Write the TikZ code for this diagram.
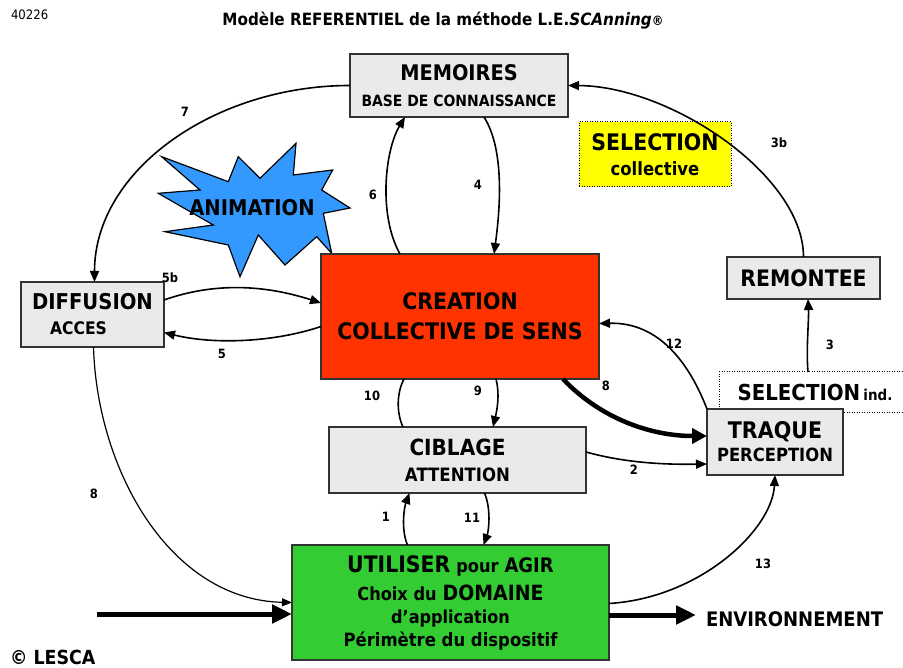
\documentclass[tikz,border=0pt]{standalone}
\usepackage{fontspec}
\setmainfont{DejaVu Sans}[FakeStretch=0.9]
\usetikzlibrary{arrows.meta}
\definecolor{boxgray}{HTML}{EAEAEA}
\definecolor{creared}{HTML}{FF3300}
\definecolor{utigreen}{HTML}{33CC33}
\definecolor{animblue}{HTML}{3399FF}
\definecolor{selyellow}{HTML}{FFFF00}
\definecolor{edgegray}{HTML}{333333}
\newcommand\fsz[1]{\fontsize{#1}{#1}\selectfont}
\newcommand\fbs[2]{\fontsize{#1}{#2}\selectfont}
\begin{document}
\begin{tikzpicture}[x=1pt,y=-1pt,
  every node/.style={inner sep=0pt, outer sep=0pt},
  box/.style={draw=edgegray, line width=1.3pt, fill=boxgray, align=center},
  dotbox/.style={draw=black, line width=1pt, dash pattern=on 1pt off 1.5pt, align=center},
  conn/.style={line width=1.6pt, -{Triangle[length=11pt,width=9pt]}},
  thinconn/.style={line width=1.2pt, -{Triangle[length=10pt,width=8pt]}},
  plainconn/.style={line width=1.6pt},
  heavyconn/.style={line width=4.5pt, -{Triangle[length=15pt,width=15pt]}},
  bigarrow/.style={line width=5pt, -{Triangle[length=20pt,width=18pt]}},
  num/.style={font=\bfseries\fsz{12.8}},
]
\useasboundingbox (0,0) rectangle (903,668);

% texts outside boxes
\node[font=\fsz{13}, anchor=west] (code) at (11,15) {40226};
\node[font=\bfseries\fsz{16.9}] (title) at (443,21) {Modèle REFERENTIEL de la méthode L.E.\textit{SCAnning}{\fsz{13}®}};

% star
\draw[fill=animblue, draw=black, line width=1.2pt, line join=miter]
  (161.7,156.7) -- (228.3,181.7) -- (238.3,156.7) -- (260,178.3) -- (296,143.3)
  -- (293.3,175) -- (332.7,170) -- (321.7,190) -- (350,208) -- (323.3,213.3)
  -- (331.7,253.3) -- (316.7,236.7) -- (285,265) -- (258.3,235) -- (240,276.7)
  -- (228.3,245) -- (165,231.7) -- (213.3,225) -- (158.3,193.3) -- (200,190) -- cycle;
\node[font=\bfseries\fsz{21.7}] (anim) at (252,208) {ANIMATION};

% boxes
\node[box, minimum width=218pt, minimum height=63pt, font=\bfseries\fbs{20}{26}] (mem) at (459,85.5)
  {{\fsz{21.5}MEMOIRES}\\{\fsz{15.5}BASE DE CONNAISSANCE}};
\node[dotbox, fill=selyellow, minimum width=152pt, minimum height=65pt, font=\bfseries\fbs{20}{25}] (selcol) at (655,154.5)
  {{\fsz{22.8}SELECTION}\\{\fsz{18.3}collective}};
\node[box, minimum width=153pt, minimum height=42pt, font=\bfseries\fsz{22.7}] (rem) at (803.5,278) {REMONTEE};
\node[box, fill=creared, minimum width=278pt, minimum height=125pt, font=\bfseries\fbs{22.8}{30}] (crea) at (460,316.5)
  {CREATION\\COLLECTIVE DE SENS};
\node[box, minimum width=143pt, minimum height=65pt, font=\bfseries\fbs{20}{25}] (diff) at (92.5,314.5)
  {{\fsz{21.8}DIFFUSION}\\{\fsz{17.3}ACCES\kern28pt}};
\node[box, minimum width=257pt, minimum height=66pt, font=\bfseries\fbs{20}{26}] (cib) at (457.5,460)
  {{\fsz{22.3}CIBLAGE}\\{\fsz{18.4}ATTENTION}};
\node[dotbox, fill=white, minimum width=200pt, minimum height=41pt, font=\bfseries] (selind) at (819,392.5)
  {{\fsz{22}SELECTION} {\fsz{15}ind.}\kern8pt};
\node[box, minimum width=136pt, minimum height=66pt, font=\bfseries\fbs{20}{23}] (traq) at (775,442)
  {{\fsz{22.9}TRAQUE}\\{\fsz{18.2}PERCEPTION}};
\node[box, fill=utigreen, minimum width=317pt, minimum height=115pt, font=\bfseries\fbs{19}{23}] (uti) at (450.5,602.5)
  {{\fsz{22.7}UTILISER} {\fsz{18}pour} {\fsz{20}AGIR}\\[5pt]{\fsz{18}Choix du} {\fsz{21}DOMAINE}\\{\fsz{17.9}d’application}\\{\fsz{18.3}Périmètre du dispositif}};
\node[font=\bfseries\fsz{20}, anchor=west] (env) at (706,619.5) {ENVIRONNEMENT};
\node[font=\bfseries\fsz{19.4}, anchor=west] (copy) at (10,657) {© LESCA};
\coordinate (inL) at (97,614);
\coordinate (outR) at (696,615);

% connectors
\draw[conn] (mem.west) .. controls (215,85.5) and (94.5,170) .. ([xshift=2]diff.north);
\draw[conn] ([xshift=-60]crea.north) .. controls (378,215) and (385,150) .. ([xshift=-54]mem.south);
\draw[conn] ([xshift=25]mem.south) .. controls (505,150) and (500,210) .. ([xshift=34]crea.north);
\draw[conn] (rem.north) .. controls (803.5,175) and (670,86) .. (mem.east);
\draw[conn] ([xshift=-11]selind.north) .. controls (806,350) and (809,320) .. ([xshift=4.5]rem.south);
\draw[conn] ([yshift=14.5]diff.east) .. controls (215,282) and (265,285) .. ([yshift=13.5]crea.west);
\draw[conn] ([yshift=-10]crea.west) .. controls (275,342) and (215,345) .. ([yshift=-18]diff.east);
\draw[conn] (traq.north west) .. controls (690,365) and (660,322) .. ([yshift=-7]crea.east);
\draw[heavyconn] ([xshift=103]crea.south) .. controls (600,418) and (650,436) .. ([yshift=6]traq.west);
\draw[plainconn] ([xshift=-54.5]cib.north) .. controls (396,412) and (397,392) .. ([xshift=-56]crea.south);
\draw[conn] ([xshift=36]crea.south) .. controls (500,395) and (497,410) .. ([xshift=35.5]cib.north);
\draw[conn] ([xshift=-43]uti.north) .. controls (401,530) and (404,508) .. ([xshift=-48]cib.south);
\draw[conn] ([xshift=27]cib.south) .. controls (491,508) and (489,530) .. ([xshift=33]uti.north);
\draw[conn] ([yshift=8]cib.east) .. controls (615,460) and (650,465) .. ([yshift=-22]traq.west);
\draw[conn] ([yshift=-1]uti.east) .. controls (700,598) and (772,530) .. (traq.south);
\draw[thinconn] ([xshift=1]diff.south) .. controls (97,470) and (170,600) .. (uti.west);
\draw[bigarrow] (inL) -- ([yshift=-11.5]uti.west);
\draw[bigarrow] ([yshift=-12.5]uti.east) -- (outR);

% labels
\node[num] (l7) at (185,112) {7};
\node[num] (l6) at (373,195) {6};
\node[num] (l4) at (478,185) {4};
\node[num] (l3b) at (779,143) {3b};
\node[num] (l3) at (830,345) {3};
\node[num] (l5b) at (170,278) {5b};
\node[num] (l5) at (222,354) {5};
\node[num] (l12) at (674,344) {12};
\node[num] (l8a) at (606,386) {8};
\node[num] (l10) at (372,396) {10};
\node[num] (l9) at (478,391) {9};
\node[num] (l1) at (386,517) {1};
\node[num] (l11) at (472,518) {11};
\node[num] (l2) at (634,470) {2};
\node[num] (l13) at (763,564) {13};
\node[num] (l8b) at (94,494) {8};
\end{tikzpicture}
\end{document}
